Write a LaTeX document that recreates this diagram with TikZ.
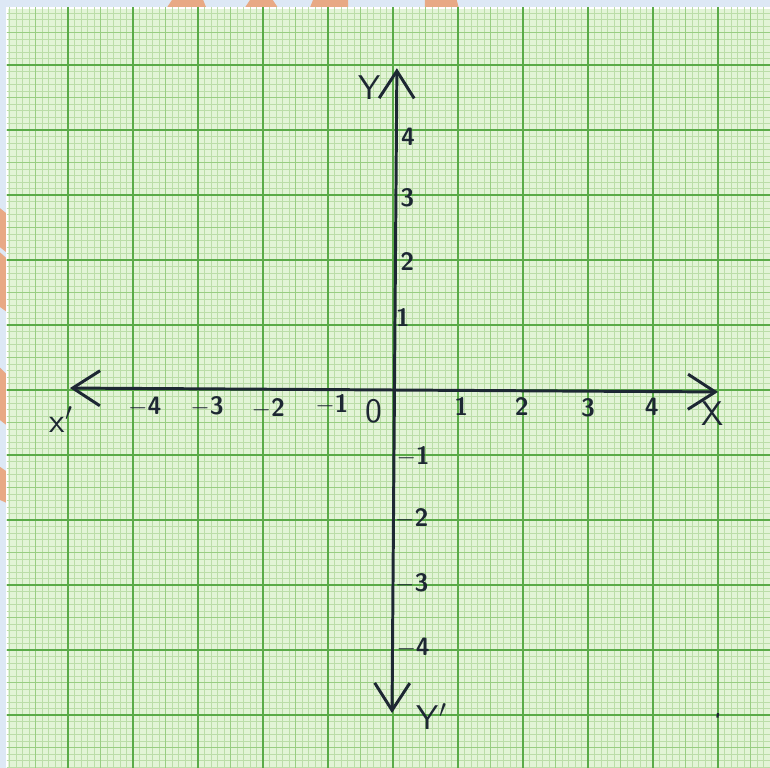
\documentclass[tikz,border=0pt]{standalone}
\usepackage{amsmath,amssymb}
\usepackage{tikz}
\usetikzlibrary{positioning,arrows.meta}

\definecolor{sky}{HTML}{DDE8F5}
\definecolor{peach}{HTML}{E8A985}
\definecolor{paperg}{HTML}{E2F4D6}
\definecolor{fineg}{HTML}{BBDDA8}
\definecolor{midg}{HTML}{98CD82}
\definecolor{boldg}{HTML}{5AAB48}
\definecolor{ink}{HTML}{1D2733}

\begin{document}
\begin{tikzpicture}[
  every node/.style={font=\sffamily\bfseries\fontsize{11}{13}\selectfont, text=ink, inner sep=1pt},
  big/.style={font=\sffamily\fontsize{15}{17}\selectfont},
  fine/.style={fineg, line width=0.3pt},
  half/.style={midg, line width=0.5pt},
  unit/.style={boldg, line width=0.9pt},
  axis/.style={ink, line width=1.3pt, {Straight Barb[length=4.2mm, width=5.4mm]}-{Straight Barb[length=4.2mm, width=5.4mm]}}
]
\useasboundingbox (-6.046,-5.815) rectangle (5.8,6.0);
\fill[sky] (-6.046,-5.815) rectangle (5.8,6.0);

% stains behind the sheet
\fill[peach] (-3.40,6.0) -- (-2.92,6.0) -- (-2.80,5.7) -- (-3.60,5.7) -- cycle;
\fill[peach] (-2.20,6.0) -- (-1.85,6.0) -- (-1.65,5.7) -- (-2.40,5.7) -- cycle;
\fill[peach] (-1.23,6.0) -- (-0.69,6.0) -- (-0.69,5.7) -- (-1.35,5.7) -- cycle;
\fill[peach] (0.49,6.0) -- (0.98,6.0) -- (1.06,5.7) -- (0.49,5.7) -- cycle;
\fill[peach] (-6.05,2.80) -- (-5.80,2.60) -- (-5.80,2.00) -- (-6.05,2.20) -- cycle;
\fill[peach] (-6.05,2.12) -- (-5.80,1.90) -- (-5.80,1.10) -- (-6.05,1.28) -- cycle;
\fill[peach] (-6.05,0.35) -- (-5.80,0.10) -- (-5.80,-0.65) -- (-6.05,-0.46) -- cycle;
\fill[peach] (-6.05,-1.18) -- (-5.80,-1.35) -- (-5.80,-1.80) -- (-6.05,-1.69) -- cycle;

% graph paper
\fill[paperg, draw=white, line width=1pt] (-5.94,-5.9) rectangle (5.9,5.877);
\begin{scope}
\clip (-5.94,-5.815) rectangle (5.8,5.877);
\draw[fine] (-6,-6) grid[step=0.1] (6,6);
\draw[half] (-6,-6) grid[step=0.5] (6,6);
\draw[unit] (-6,-6) grid[step=1] (6,6);
\end{scope}

% axes
\coordinate (xl) at (-4.97,0.03);
\coordinate (xr) at (5.0,-0.03);
\coordinate (yt) at (0.06,4.95);
\coordinate (yb) at (-0.015,-4.97);
\draw[axis] (xl) -- (xr);
\draw[axis] (yb) -- (yt);

% axis names
\node[big] (xp) at (-5.10,-0.46) {x$'$};
\node[big] (xn) at (4.92,-0.36) {X};
\node[big] (yn) at (-0.36,4.65) {Y};
\node[big] (yp) at (0.60,-5.02) {Y$'$};

% x scale
\node (xm4) at (-3.82,-0.26) {$-$4};
\node (xm3) at (-2.86,-0.26) {$-$3};
\node (xm2) at (-1.92,-0.28) {$-$2};
\node (xm1) at (-0.94,-0.23) {$-$1};
\node[big] (o) at (-0.29,-0.32) {0};
\node (x1) at (1.05,-0.26) {1};
\node (x2) at (1.98,-0.26) {2};
\node (x3) at (3.00,-0.28) {3};
\node (x4) at (3.98,-0.26) {4};

% y scale
\node (y4) at (0.23,3.89) {4};
\node (y3) at (0.22,2.95) {3};
\node (y2) at (0.22,1.97) {2};
\node (y1) at (0.15,1.11) {1};
\node (ym1) at (0.31,-1.03) {$-$1};
\node (ym2) at (0.29,-1.97) {$-$2};
\node (ym3) at (0.29,-2.97) {$-$3};
\node (ym4) at (0.31,-3.97) {$-$4};

% stray pen mark
\draw[ink, line width=1pt] (5.0,-4.97) -- (4.99,-5.04);
\end{tikzpicture}
\end{document}
